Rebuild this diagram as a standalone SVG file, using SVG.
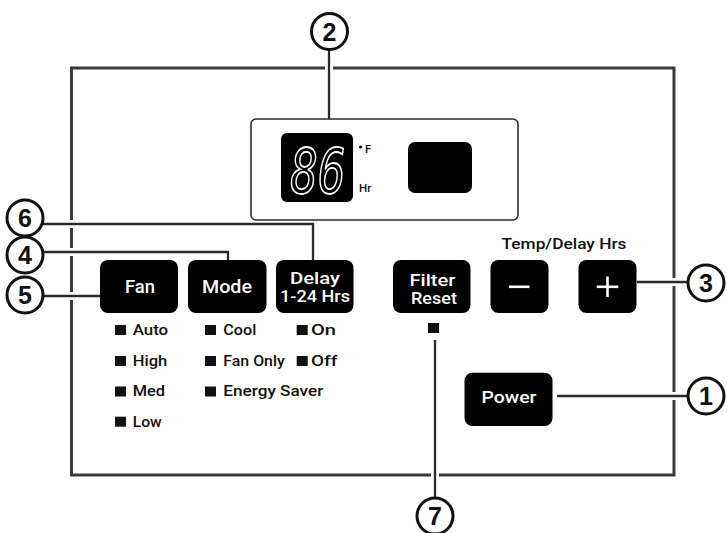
<svg xmlns="http://www.w3.org/2000/svg" width="727" height="533" viewBox="0 0 727 533">
<style>
.panel{fill:none;stroke:#3a3a3a;stroke-width:3}
.halo{fill:none;stroke:#fff;stroke-width:8}
.lead{fill:none;stroke:#2a2a2a;stroke-width:2.3}
.btn{fill:#000}
.bt{font-family:Roboto,"Liberation Sans",sans-serif;font-weight:500;fill:#fff;text-anchor:middle}
.num{fill:#fff;stroke:#111;stroke-width:3}
.nt{font-family:"Liberation Sans",Arial,sans-serif;font-weight:bold;font-size:25px;fill:#111;text-anchor:middle}
.lbl{font-family:Roboto,"Liberation Sans",sans-serif;font-weight:500;font-size:14px;fill:#111}
.sq{fill:#111}
</style>
<rect x="0" y="0" width="727" height="533" fill="#fff"/>
<rect class="panel" x="71.5" y="68" width="602.5" height="407"/>
<g id="connectors">
<path class="halo" d="M329 50V119M43 224H313V260M43 252H228V262M43 296H100M637 282H688M557 396H688M435 340V498"/>
<path class="lead" d="M329 50V119M43 224H313V260M43 252H228V262M43 296H100M637 282H688M557 396H688M435 340V498"/>
</g>
<g id="display">
<rect x="251" y="119" width="267" height="101" rx="5" fill="#fff" stroke="#2a2a2a" stroke-width="1.6"/>
<rect x="281" y="133" width="72" height="69" rx="6" fill="#000"/>
<text transform="translate(318 193) scale(0.74 1)" x="0" y="0" font-family="DejaVu Sans Mono,monospace" font-style="italic" font-size="62" fill="#000" stroke="#fff" stroke-width="1.8" text-anchor="middle">86</text>
<circle cx="360.5" cy="147" r="1.6" fill="#111"/>
<text x="365" y="153" font-family="Roboto,'Liberation Sans',sans-serif" font-weight="500" font-size="11.5" fill="#111">F</text>
<text x="359" y="192" font-family="Roboto,'Liberation Sans',sans-serif" font-weight="500" font-size="11.5" fill="#111">Hr</text>
<rect x="408" y="142" width="64" height="51" rx="7" fill="#000"/>
</g>
<g id="fan">
<rect class="btn" x="100" y="260" width="78" height="53" rx="8"/>
<text class="bt" x="140" y="293" font-size="17.5" textLength="30" lengthAdjust="spacingAndGlyphs">Fan</text>
</g>
<g id="mode">
<rect class="btn" x="188" y="260" width="78.5" height="53" rx="8"/>
<text class="bt" x="227" y="293" font-size="17.5" textLength="50" lengthAdjust="spacingAndGlyphs">Mode</text>
</g>
<g id="delay">
<rect class="btn" x="276" y="260" width="77.5" height="53" rx="8"/>
<text class="bt" font-size="16.5"><tspan x="315" y="284.3" textLength="50" lengthAdjust="spacingAndGlyphs">Delay</tspan><tspan x="315" y="301.7" textLength="70" lengthAdjust="spacingAndGlyphs">1-24 Hrs</tspan></text>
</g>
<g id="filter">
<rect class="btn" x="393" y="260" width="77.5" height="53" rx="8"/>
<text class="bt" font-size="16"><tspan x="432.5" y="285.8" textLength="46" lengthAdjust="spacingAndGlyphs">Filter</tspan><tspan x="434" y="303.6" textLength="46" lengthAdjust="spacingAndGlyphs">Reset</tspan></text>
<rect class="sq" x="428" y="323" width="11" height="10"/>
</g>
<g id="temp">
<text class="lbl" x="564" y="249.3" text-anchor="middle" font-size="13.5" textLength="125" lengthAdjust="spacingAndGlyphs">Temp/Delay Hrs</text>
</g>
<g id="minus">
<rect class="btn" x="490.5" y="260" width="58" height="53" rx="8"/>
<rect x="509" y="285.5" width="20.5" height="2.6" fill="#fff"/>
</g>
<g id="plus">
<rect class="btn" x="578.5" y="260" width="58" height="53" rx="8"/>
<rect x="596.7" y="285.5" width="21.6" height="2.6" fill="#fff"/>
<rect x="606.2" y="276.5" width="2.6" height="20.6" fill="#fff"/>
</g>
<g id="power">
<rect class="btn" x="464.5" y="372.7" width="88" height="53.3" rx="8"/>
<text class="bt" x="509" y="403.3" font-size="16.5" textLength="55" lengthAdjust="spacingAndGlyphs">Power</text>
</g>
<g id="indicators">
<rect class="sq" x="115" y="325" width="11" height="10"/><text class="lbl" x="132.7" y="335" textLength="35.5" lengthAdjust="spacingAndGlyphs">Auto</text>
<rect class="sq" x="115" y="356" width="11" height="10"/><text class="lbl" x="132.7" y="365.5" textLength="34.5" lengthAdjust="spacingAndGlyphs">High</text>
<rect class="sq" x="115" y="386.5" width="11" height="10"/><text class="lbl" x="132.7" y="396" textLength="32.3" lengthAdjust="spacingAndGlyphs">Med</text>
<rect class="sq" x="115" y="416.7" width="11" height="10"/><text class="lbl" x="132.7" y="426.5" textLength="29" lengthAdjust="spacingAndGlyphs">Low</text>
<rect class="sq" x="205" y="325" width="11" height="10"/><text class="lbl" x="223.3" y="335" textLength="33" lengthAdjust="spacingAndGlyphs">Cool</text>
<rect class="sq" x="205" y="356" width="11" height="10"/><text class="lbl" x="223.3" y="365.5" textLength="61.5" lengthAdjust="spacingAndGlyphs">Fan Only</text>
<rect class="sq" x="205" y="386.5" width="11" height="10"/><text class="lbl" x="223.3" y="396" textLength="100" lengthAdjust="spacingAndGlyphs">Energy Saver</text>
<rect class="sq" x="296.7" y="325" width="11" height="10"/><text class="lbl" x="311" y="335" textLength="25" lengthAdjust="spacingAndGlyphs">On</text>
<rect class="sq" x="296.7" y="356" width="11" height="10"/><text class="lbl" x="311" y="365.5" textLength="26.5" lengthAdjust="spacingAndGlyphs">Off</text>
</g>
<g id="c1"><circle class="num" cx="706" cy="396" r="18"/><text class="nt" x="706" y="405">1</text></g>
<g id="c2"><circle class="num" cx="329.5" cy="31.5" r="18"/><text class="nt" x="329.5" y="40.5">2</text></g>
<g id="c3"><circle class="num" cx="706" cy="283" r="18"/><text class="nt" x="706" y="292">3</text></g>
<g id="c4"><circle class="num" cx="25" cy="255" r="18"/><text class="nt" x="25" y="264">4</text></g>
<g id="c5"><circle class="num" cx="25" cy="295" r="18"/><text class="nt" x="25" y="304">5</text></g>
<g id="c6"><circle class="num" cx="25" cy="218" r="18"/><text class="nt" x="25" y="227">6</text></g>
<g id="c7"><circle class="num" cx="435" cy="516" r="18"/><text class="nt" x="435" y="525">7</text></g>
</svg>
